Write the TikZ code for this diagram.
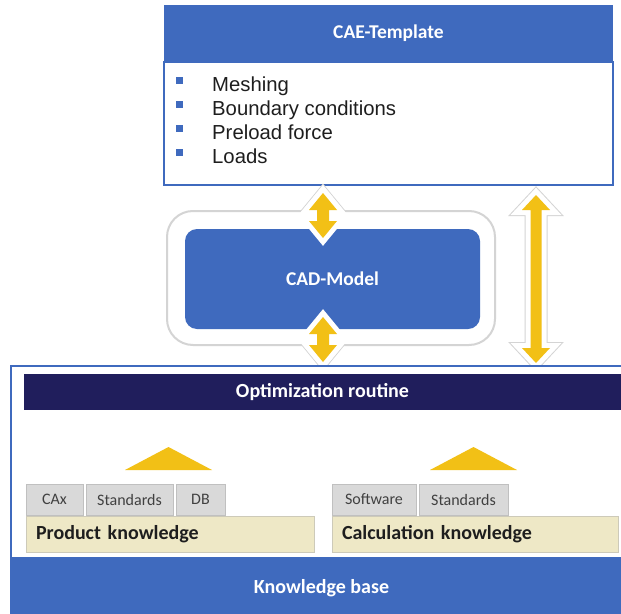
\documentclass[tikz,border=0pt]{standalone}
\usepackage{fontspec}
\setmainfont{Carlito}
\newfontfamily\arialfont{Liberation Sans}
\definecolor{hdrblue}{RGB}{63,106,190}
\definecolor{navy}{RGB}{32,30,92}
\definecolor{amber}{RGB}{242,192,22}
\definecolor{tabgray}{RGB}{217,217,217}
\definecolor{tabedge}{RGB}{192,192,192}
\definecolor{tanfill}{RGB}{238,232,198}
\definecolor{tanedge}{RGB}{205,202,185}
\definecolor{halo}{RGB}{212,212,212}
\definecolor{inktext}{RGB}{30,30,30}

% vertical double arrow outline: x, y top, y bottom, head half width, head length, shaft half width
\newcommand\DArrow[6]{%
  (#1,#2) -- ({#1+#4},{#2+#5}) -- ({#1+#6},{#2+#5}) -- ({#1+#6},{#3-#5})
  -- ({#1+#4},{#3-#5}) -- (#1,#3) -- ({#1-#4},{#3-#5}) -- ({#1-#6},{#3-#5})
  -- ({#1-#6},{#2+#5}) -- ({#1-#4},{#2+#5}) -- cycle}

\begin{document}
\begin{tikzpicture}[x=1pt,y=-1pt,
  box/.style={rectangle, inner sep=0pt, outer sep=0pt},
  whitelabel/.style={text=white, font=\bfseries\fontsize{19.5}{22}\selectfont},
  tabbox/.style={box, fill=tabgray, draw=tabedge, line width=1,
    minimum height=31, text=inktext!85, font=\fontsize{16}{18}\selectfont},
  knowbox/.style={box, fill=tanfill, draw=tanedge, line width=1,
    minimum height=36, inner xsep=10pt, align=left, text=inktext,
    font=\bfseries\fontsize{20}{23}\selectfont},
  itemtext/.style={anchor=base west, inner sep=0pt, text=inktext,
    font=\arialfont\fontsize{20.3}{23}\selectfont},
  halostroke/.style={draw=halo, line width=12, line join=miter},
  whitestroke/.style={draw=white, line width=10, line join=miter},
  arrowfill/.style={fill=amber}]
\useasboundingbox (0,0) rectangle (621,613);
\fill[white] (0,0) rectangle (621,613);

% CAE template box
\node[box, fill=hdrblue, minimum width=449, minimum height=57, whitelabel] (caehead) at (388.5,33.5) {CAE-Template};
\node[box, draw=hdrblue, line width=2, fill=white, minimum width=449, minimum height=123, anchor=north] (caebody) at (caehead.south) {};
\foreach \t [count=\i] in {Meshing, Boundary conditions, Preload force, Loads} {
  \fill[hdrblue] (175.5,{52.5+24*\i}) rectangle +(7,7);
  \node[itemtext] (item\i) at (212,{67+24*\i}) {\t};
}

% arrow outlines and CAD frame
\def\arrA{\DArrow{323}{193}{238}{14}{17}{6}}
\def\arrB{\DArrow{323}{317}{362}{14}{17}{6}}
\def\arrC{\DArrow{536}{195}{363}{14}{15}{5.5}}
\path[halostroke] \arrA;
\path[halostroke] \arrB;
\path[halostroke] \arrC;
\node[box, draw=halo, line width=2, fill=white, rounded corners=26, minimum width=328, minimum height=134] (cadframe) at (331,278) {};
\path[whitestroke] \arrC;
\path[whitestroke] \arrA;
\path[whitestroke] \arrB;
\node[box, fill=hdrblue, rounded corners=12, minimum width=295, minimum height=100, whitelabel] (cad) at (332.5,279) {CAD-Model};
\path[whitestroke] \arrA;
\path[whitestroke] \arrB;
\path[arrowfill] \arrA;
\path[arrowfill] \arrB;
\path[arrowfill] \arrC;

% knowledge base frame
\node[box, draw=hdrblue, line width=2, fill=white, anchor=north west, minimum width=630, minimum height=250] (kbframe) at (11,366) {};
\node[box, fill=hdrblue, anchor=north west, minimum width=621, minimum height=62, whitelabel, font=\bfseries\fontsize{20}{22}\selectfont] (kb) at (11,557) {Knowledge base};
\node[box, fill=navy, minimum width=597, minimum height=36, whitelabel, font=\bfseries\fontsize{20}{22}\selectfont] (opt) at (322.5,392) {Optimization routine};

% supporting wedges
\fill[amber] (125,470) -- (168.5,447) -- (212,470) -- cycle;
\fill[amber] (430,470) -- (473.5,447) -- (517,470) -- cycle;

% knowledge sources
\node[tabbox, minimum width=57] (cax) at (54.5,499.5) {CAx};
\node[tabbox, minimum width=87] (stdA) at (129.5,499.5) {Standards};
\node[tabbox, minimum width=49] (db) at (200.5,499.5) {DB};
\node[tabbox, minimum width=84] (soft) at (374,499.5) {Software};
\node[tabbox, minimum width=89] (stdB) at (463.5,499.5) {Standards};
\node[knowbox, text width=268] (prod) at (170,534) {Product knowledge};
\node[knowbox, text width=266] (calc) at (475,534) {Calculation knowledge};
\end{tikzpicture}
\end{document}
